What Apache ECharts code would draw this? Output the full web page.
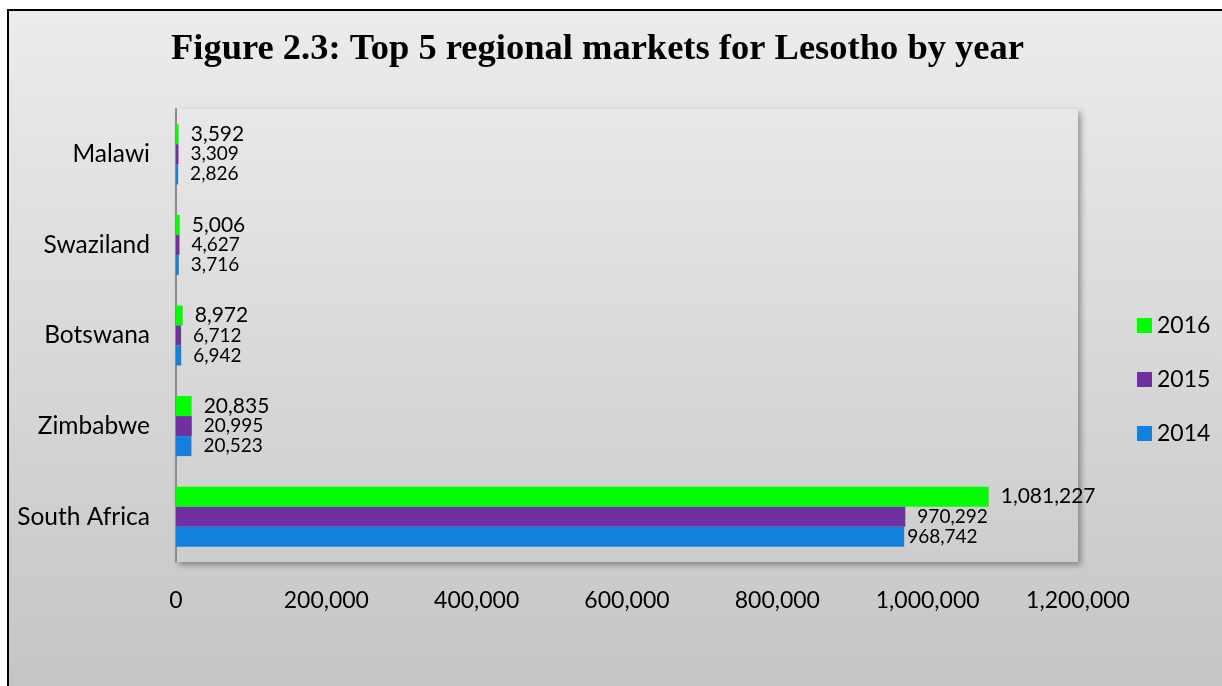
<!DOCTYPE html>
<html>
<head>
<meta charset="utf-8">
<script src="https://cdn.jsdelivr.net/npm/echarts@6/dist/echarts.min.js"></script>
<style>
  html, body { margin: 0; padding: 0; background: #ffffff; }
  #chart { width: 1222px; height: 686px; }
</style>
</head>
<body>
<div id="chart"></div>
<script>
// Lesotho exports to its top regional markets
const categories = ['South Africa', 'Zimbabwe', 'Botswana', 'Swaziland', 'Malawi'];
const years = ['2016', '2015', '2014'];
const values2014 = [968742, 20523, 6942, 3716, 2826];
const values2015 = [970292, 20995, 6712, 4627, 3309];
const values2016 = [1081227, 20835, 8972, 5006, 3592];
const xTicks = { min: 0, max: 1200000, interval: 200000 };

const colors = { '2014': '#1380de', '2015': '#7030a0', '2016': '#00ff00' };
const labelFont = 'Lato, "Open Sans", sans-serif';

function fmt(v) { return Number(v).toLocaleString('en-US'); }

function makeSeries(name, values, fontSize, distOverride) {
  return {
    name: name,
    type: 'bar',
    barWidth: 20,
    barGap: '0%',
    itemStyle: { color: colors[name] },
    label: {
      show: true,
      position: 'right',
      distance: 12,
      color: '#000',
      fontFamily: labelFont,
      fontSize: fontSize,
      formatter: p => fmt(p.value)
    },
    data: values.map((v, i) => (distOverride && distOverride[i] != null)
      ? { value: v, label: { distance: distOverride[i] } }
      : v)
  };
}

const chart = echarts.init(document.getElementById('chart'), null, { renderer: 'canvas' });

chart.setOption({
  animation: false,
  backgroundColor: '#ffffff',
  graphic: [
    {
      type: 'rect',
      z: -10,
      silent: true,
      shape: { x: 8, y: 10, width: 1300, height: 800 },
      style: {
        fill: new echarts.graphic.LinearGradient(0, 0, 0, 1, [
          { offset: 0, color: '#ececec' },
          { offset: 1, color: '#bebebe' }
        ]),
        stroke: '#000000',
        lineWidth: 2
      }
    },
    {
      type: 'text',
      left: 171,
      top: 31,
      style: {
        text: 'Figure 2.3: Top 5 regional markets for Lesotho by year',
        fill: '#000',
        font: 'bold 36.5px "Liberation Serif", "DejaVu Serif", serif'
      }
    }
  ],
  grid: {
    left: 176,
    top: 109,
    right: 144,
    bottom: 124,
    show: true,
    borderWidth: 0,
    backgroundColor: new echarts.graphic.LinearGradient(0, 0, 0, 1, [
      { offset: 0, color: '#e8e8e8' },
      { offset: 1, color: '#cdcdcd' }
    ]),
    shadowColor: 'rgba(0,0,0,0.35)',
    shadowBlur: 6,
    shadowOffsetX: 3,
    shadowOffsetY: 3
  },
  legend: {
    data: years,
    orient: 'vertical',
    left: 1132,
    top: 309,
    icon: 'rect',
    itemWidth: 15,
    itemHeight: 15,
    itemGap: 31,
    textStyle: { fontFamily: labelFont, fontSize: 23, color: '#000' }
  },
  xAxis: {
    type: 'value',
    min: xTicks.min,
    max: xTicks.max,
    interval: xTicks.interval,
    axisLine: { show: false },
    axisTick: { show: false },
    splitLine: { show: false },
    axisLabel: {
      margin: 27,
      color: '#000',
      fontFamily: labelFont,
      fontSize: 23,
      formatter: v => fmt(v)
    }
  },
  yAxis: {
    type: 'category',
    data: categories,
    axisLine: { show: true, lineStyle: { color: '#8c8c8c', width: 2 } },
    axisTick: { show: false },
    axisLabel: {
      margin: 26,
      color: '#000',
      fontFamily: labelFont,
      fontSize: 24.5
    }
  },
  // top-to-bottom within each category: 2016, 2015, 2014
  series: [
    makeSeries('2016', values2016, 21),
    makeSeries('2015', values2015, 19),
    makeSeries('2014', values2014, 19, [3])
  ]
});
</script>
</body>
</html>
